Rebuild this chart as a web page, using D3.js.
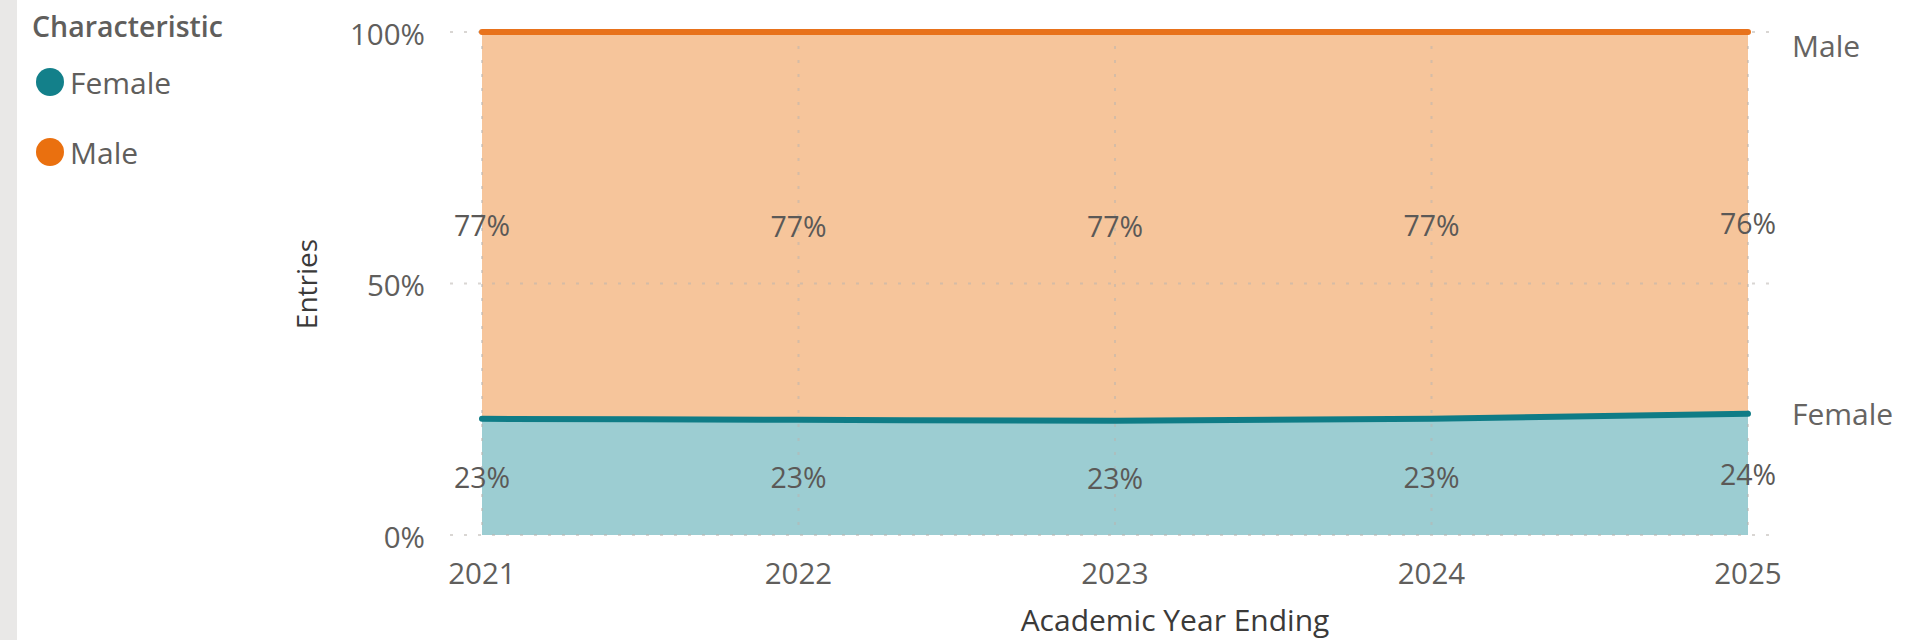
<!DOCTYPE html>
<html>
<head>
<meta charset="utf-8">
<script src="https://cdn.jsdelivr.net/npm/d3@7"></script>
<style>
  html, body { margin: 0; padding: 0; background: #ffffff; }
  svg { display: block; font-family: "Open Sans", "Noto Sans", sans-serif; }
</style>
</head>
<body>
<svg id="chart" width="1910" height="640"></svg>
<script>
// Share of entries by characteristic, per academic year ending
const years = ["2021", "2022", "2023", "2024", "2025"];
const femaleShare = [0.231, 0.229, 0.227, 0.231, 0.241];
const maleShare = [0.769, 0.771, 0.773, 0.769, 0.759];
const seriesNames = ["Female", "Male"];
const yTicks = [0, 0.5, 1];
const yTickLabels = ["0%", "50%", "100%"];

const colors = {
  Female: { line: "#0f7c86", fill: "#9ccdd2", dot: "#13808a" },
  Male:   { line: "#e8721b", fill: "#f6c59b", dot: "#ea700f" }
};
const textColor = "#605e5c";

const svg = d3.select("#chart");
const W = 1910, H = 640;

svg.append("rect").attr("width", W).attr("height", H).attr("fill", "#ffffff");
// page edge strip
svg.append("rect").attr("x", 0).attr("y", 0).attr("width", 17).attr("height", H).attr("fill", "#e9e8e7");

const x = d3.scalePoint().domain(years).range([482, 1748]);
const y = d3.scaleLinear().domain([0, 1]).range([535, 32]);

// stacked rows
const rows = years.map((yr, i) => ({ year: yr, Female: femaleShare[i], Male: maleShare[i] }));
const stack = d3.stack().keys(seriesNames)(rows);

const curve = d3.curveMonotoneX;
const area = d3.area()
  .x(d => x(d.data.year))
  .y0(d => y(d[0]))
  .y1(d => y(d[1]))
  .curve(curve);

const areas = svg.append("g");
stack.forEach(s => {
  areas.append("path")
    .attr("d", area(s))
    .attr("fill", colors[s.key].fill);
});

// gridlines
const grid = svg.append("g")
  .attr("stroke", "#b9b4ae")
  .attr("stroke-opacity", 0.55)
  .attr("stroke-width", 2)
  .attr("stroke-dasharray", "3,11");
yTicks.forEach(t => {
  grid.append("line")
    .attr("x1", 450).attr("x2", 1770)
    .attr("y1", y(t)).attr("y2", y(t));
});
years.forEach(yr => {
  grid.append("line")
    .attr("x1", x(yr)).attr("x2", x(yr))
    .attr("y1", y(1)).attr("y2", y(0));
});

// series lines along the top of each band
const line = d3.line()
  .x(d => x(d.data.year))
  .y(d => y(d[1]))
  .curve(curve);
stack.forEach(s => {
  svg.append("path")
    .attr("d", line(s))
    .attr("fill", "none")
    .attr("stroke", colors[s.key].line)
    .attr("stroke-width", 6)
    .attr("stroke-linecap", "round");
});

// data labels in the middle of each band
const fmt = d3.format(".0%");
const labels = svg.append("g")
  .attr("font-size", 28.5)
  .attr("fill", "#5b5957")
  .attr("text-anchor", "middle")
  .attr("dominant-baseline", "central");
stack.forEach(s => {
  s.forEach(d => {
    labels.append("text")
      .attr("x", x(d.data.year))
      .attr("y", y((d[0] + d[1]) / 2))
      .text(fmt(d.data[s.key]));
  });
});

// y axis tick labels
const yAxis = svg.append("g")
  .attr("font-size", 29.5)
  .attr("fill", textColor)
  .attr("text-anchor", "end")
  .attr("dominant-baseline", "central");
yTicks.forEach((t, i) => {
  yAxis.append("text").attr("x", 425).attr("y", y(t) + 1).text(yTickLabels[i]);
});

// x axis tick labels
const xAxis = svg.append("g")
  .attr("font-size", 29.5)
  .attr("fill", textColor)
  .attr("text-anchor", "middle")
  .attr("dominant-baseline", "central");
years.forEach(yr => {
  xAxis.append("text").attr("x", x(yr)).attr("y", 572).text(yr);
});

// axis titles
svg.append("text")
  .attr("transform", "translate(306,284) rotate(-90)")
  .attr("font-size", 28)
  .attr("fill", "#3b3a39")
  .attr("text-anchor", "middle")
  .attr("dominant-baseline", "central")
  .text("Entries");

svg.append("text")
  .attr("x", 1175).attr("y", 619)
  .attr("font-size", 30)
  .attr("fill", "#3b3a39")
  .attr("text-anchor", "middle")
  .attr("dominant-baseline", "central")
  .text("Academic Year Ending");

// series name at the end of each line
const lastIdx = years.length - 1;
stack.forEach(s => {
  const d = s[lastIdx];
  const ly = Math.max(y(d[1]), 45);
  svg.append("text")
    .attr("x", 1792).attr("y", ly)
    .attr("font-size", 30)
    .attr("fill", "#666462")
    .attr("dominant-baseline", "central")
    .text(s.key);
});

// legend
const legend = svg.append("g");
legend.append("text")
  .attr("x", 32).attr("y", 26)
  .attr("font-size", 28.5)
  .attr("font-weight", 600)
  .attr("fill", textColor)
  .attr("dominant-baseline", "central")
  .text("Characteristic");
seriesNames.forEach((name, i) => {
  const cy = 82 + i * 70;
  legend.append("circle")
    .attr("cx", 50).attr("cy", cy).attr("r", 14)
    .attr("fill", colors[name].dot);
  legend.append("text")
    .attr("x", 70).attr("y", cy)
    .attr("font-size", 30)
    .attr("fill", textColor)
    .attr("dominant-baseline", "central")
    .text(name);
});
</script>
</body>
</html>
